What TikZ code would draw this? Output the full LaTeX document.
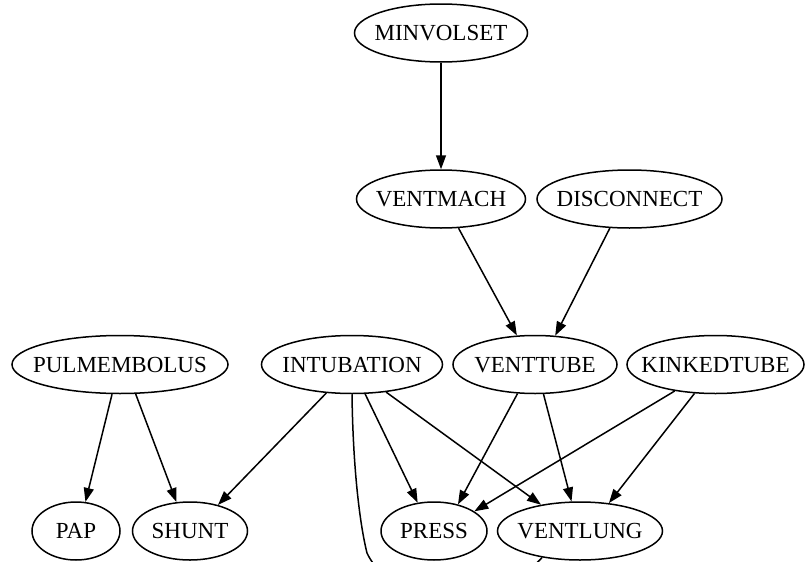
\documentclass[tikz,border=0pt]{standalone}
\usepackage{fontspec}
\setmainfont{Liberation Serif}
\usetikzlibrary{shapes.geometric,arrows.meta}
\newcommand\lbl[1]{\makebox[0pt]{\raisebox{-0.331em}[0pt][0pt]{#1}}}
\tikzset{
  gnode/.style={draw, ellipse, line width=1.5pt, inner sep=0pt, minimum height=58pt,
    font=\fontsize{23}{23}\selectfont},
  gedge/.style={line width=1.5pt, -{Triangle[length=14pt,width=10pt]}},
  gline/.style={line width=1.5pt}
}
\begin{document}
\begin{tikzpicture}[x=1pt,y=-1pt]
\useasboundingbox (0,0) rectangle (806,562);
\node[gnode, minimum width=173pt] (mv) at (441,33) {\lbl{MINVOLSET}};
\node[gnode, minimum width=169pt] (vm) at (441,199) {\lbl{VENTMACH}};
\node[gnode, minimum width=185pt] (dc) at (629.5,199) {\lbl{DISCONNECT}};
\node[gnode, minimum width=216pt] (pe) at (120,364.5) {\lbl{PULMEMBOLUS}};
\node[gnode, minimum width=181pt] (it) at (352,364.5) {\lbl{INTUBATION}};
\node[gnode, minimum width=164pt] (vt) at (535,364.5) {\lbl{VENTTUBE}};
\node[gnode, minimum width=177pt] (kt) at (715.5,364.5) {\lbl{KINKEDTUBE}};
\node[gnode, minimum width=88pt] (pap) at (76,531) {\lbl{PAP}};
\node[gnode, minimum width=115pt] (sh) at (190,531) {\lbl{SHUNT}};
\node[gnode, minimum width=106pt] (pr) at (434,531) {\lbl{PRESS}};
\node[gnode, minimum width=165pt] (vl) at (580,531) {\lbl{VENTLUNG}};
\coordinate (c1) at (378,570);
\coordinate (c2) at (527,573);

\draw[gedge] (mv.south) -- (vm.north);
\draw[gedge] (vm.-59) -- (vt.122);
\draw[gedge] (dc.-124) -- (vt.55);
\draw[gedge] (pe.-105) -- (pap.72);
\draw[gedge] (pe.-62) -- (sh.115);
\draw[gedge] (it.-132) -- (sh.43.5);
\draw[gedge] (it.-66) -- (pr.120);
\draw[gedge] (it.-39) -- (vl.146);
\draw[gedge] (vt.-121) -- (pr.48.6);
\draw[gedge] (vt.-74.5) -- (vl.106);
\draw[gedge] (kt.-147.5) -- (pr.26.7);
\draw[gedge] (kt.-126) -- (vl.44);
\draw[gline] (it.south) .. controls (353,470) and (360,525) .. (367,553) .. controls (370,559) .. (c1);
\draw[gline] (vl.-145) -- (c2);
\end{tikzpicture}
\end{document}
